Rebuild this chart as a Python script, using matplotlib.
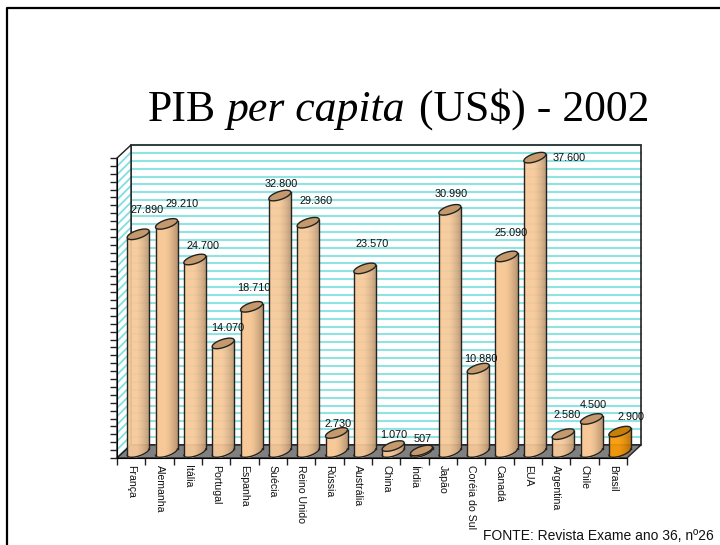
import numpy as np
import matplotlib
matplotlib.use('Agg')
import matplotlib.pyplot as plt
from matplotlib.lines import Line2D
from matplotlib.patches import Polygon, Rectangle

# Dados do grafico
paises = ['França', 'Alemanha', 'Itália', 'Portugal', 'Espanha', 'Suécia', 'Reino Unido',
          'Rússia', 'Austrália', 'China', 'Índia', 'Japão', 'Coréia do Sul', 'Canadá',
          'EUA', 'Argentina', 'Chile', 'Brasil']
pib = [27890, 29210, 24700, 14070, 18710, 32800, 29360, 2730, 23570,
       1070, 507, 30990, 10880, 25090, 37600, 2580, 4500, 2900]

# posicao (px) dos rotulos de valor na figura
rotulos_x = [147, 182, 203, 228, 254, 281, 316, 338, 372, 394, 423, 451, 481, 511, 569, 567, 593, 631]
rotulos_y = [210, 204, 246, 328, 288, 184, 201, 424, 244, 435, 439, 194, 359, 233, 158, 415, 405, 417]

W, H = 720, 545
ymax = 38000
px_x = 510 / 18          # px por categoria
px_y = 300 / ymax        # px por unidade
dx = 14 / px_x           # profundidade
dy = 13 / px_y

plt.rcParams['hatch.linewidth'] = 1.3

fig = plt.figure(figsize=(W / 100, H / 100), dpi=100)
ax = fig.add_axes([117 / W, 1 - 458 / H, 510 / W, 300 / H])
ax.set_xlim(0, 18)
ax.set_ylim(0, ymax)
ax.patch.set_visible(False)
for s in ['top', 'right']:
    ax.spines[s].set_visible(False)

# moldura do slide
fig.add_artist(Line2D([7 / W, 7 / W, 1], [0, 1 - 8 / H, 1 - 8 / H], color='black', lw=1.6))

# parede de fundo
ax.add_patch(Rectangle((dx, dy), 18, ymax, fc='white', ec='none', zorder=1))
for v in range(0, ymax + 1, 1000):
    ax.plot([dx, dx + 18], [dy + v, dy + v], color='#8FE3E0', lw=1.5, zorder=1.1, clip_on=False)
ax.add_patch(Rectangle((dx, dy), 18, ymax, fc='none', ec='#222222', lw=1.2, zorder=1.2, clip_on=False))

# parede lateral
ax.add_patch(Polygon([(0, 0), (dx, dy), (dx, dy + ymax), (0, ymax)], closed=True, fc='white',
                     ec='#7FE0E4', hatch='////', lw=0, zorder=1.3, clip_on=False))
ax.add_patch(Polygon([(0, 0), (dx, dy), (dx, dy + ymax), (0, ymax)], closed=True, fc='none',
                     ec='#222222', lw=1, zorder=1.4, clip_on=False))

# piso
ax.add_patch(Polygon([(0, 0), (18, 0), (18 + dx, dy), (dx, dy)], closed=True, fc='#808080',
                     ec='#222222', lw=1, zorder=1.5, clip_on=False))

# cilindros
a = 11 / px_x
b = 4.2 / px_y
k = 3.2 / px_y
topo_off = 3.5 / px_y
base_off = 6 / px_y
t = np.linspace(0, 2 * np.pi, 80)


def cilindro(i, v, claro, escuro, topo):
    cx = i + 0.5 + 7 / px_x
    yt = v + topo_off
    yb = min(base_off, yt)
    z = 2 + i * 0.01
    xs = np.linspace(-1, 1, 23)
    for j in range(len(xs) - 1):
        u = (xs[j] + xs[j + 1]) / 2
        f = max(0.0, (u + 0.2) / 1.2) ** 1.5
        cor = tuple(np.array(claro) * (1 - f) + np.array(escuro) * f)
        uu = np.array([xs[j], xs[j + 1]])
        baixo = yb + k * uu - b * np.sqrt(1 - uu ** 2)
        alto = yt + k * uu
        ax.fill_between(cx + a * uu, baixo, alto, color=cor, lw=0.3, zorder=z, clip_on=False)
    uu = np.linspace(-1, 1, 40)
    ax.plot(cx + a * uu, yb + k * uu - b * np.sqrt(1 - uu ** 2), color='#222222', lw=1,
            zorder=z + 0.005, clip_on=False)
    ax.plot([cx - a, cx - a], [yb - k, yt - k], color='#222222', lw=1, zorder=z + 0.005, clip_on=False)
    ax.plot([cx + a, cx + a], [yb + k, yt + k], color='#222222', lw=1, zorder=z + 0.005, clip_on=False)
    ax.fill(cx + a * np.cos(t), yt + b * np.sin(t) + k * np.cos(t), fc=topo, ec='#222222', lw=1,
            zorder=z + 0.006, clip_on=False)


for i, v in enumerate(pib):
    if paises[i] == 'Brasil':
        cilindro(i, v, (0.97, 0.60, 0.02), (0.72, 0.42, 0.0), '#C87F08')
    else:
        cilindro(i, v, (0.97, 0.79, 0.60), (0.72, 0.58, 0.44), '#C4996C')

# eixos
ax.set_yticks(range(0, ymax + 1, 1000))
ax.set_yticklabels([])
ax.tick_params(axis='y', length=5, width=1, pad=0, color='#222222')
ax.set_xticks(range(0, 19))
ax.set_xticklabels([])
ax.tick_params(axis='x', which='major', length=5, width=1, color='#222222')
ax.set_xticks(np.arange(18) + 0.5, minor=True)
ax.set_xticklabels(paises, minor=True, rotation=-90, fontsize=7.6, family='Liberation Sans', color='#111111')
ax.tick_params(axis='x', which='minor', length=0, pad=5)

# rotulos de valor
for v, x, y in zip(pib, rotulos_x, rotulos_y):
    fig.text(x / W, 1 - y / H, f'{v:,}'.replace(',', '.'), ha='center', va='center', fontsize=7.8,
             family='Liberation Sans', color='#111111', zorder=10)

# titulo
fig.text(148 / W, 1 - 121 / H, 'PIB', ha='left', va='baseline', fontsize=31.5, family='Liberation Serif')
fig.text(227 / W, 1 - 121 / H, 'per capita', ha='left', va='baseline', fontsize=31.5,
         family='Liberation Serif', style='italic')
fig.text(419 / W, 1 - 121 / H, '(US$) - 2002', ha='left', va='baseline', fontsize=31.5, family='Liberation Serif')

fig.text(598 / W, 1 - 536 / H, 'FONTE: Revista Exame ano 36, nº26', ha='center', va='center', fontsize=10,
         family='Liberation Sans', color='#111111')

fig.savefig('out.png', dpi=100)
